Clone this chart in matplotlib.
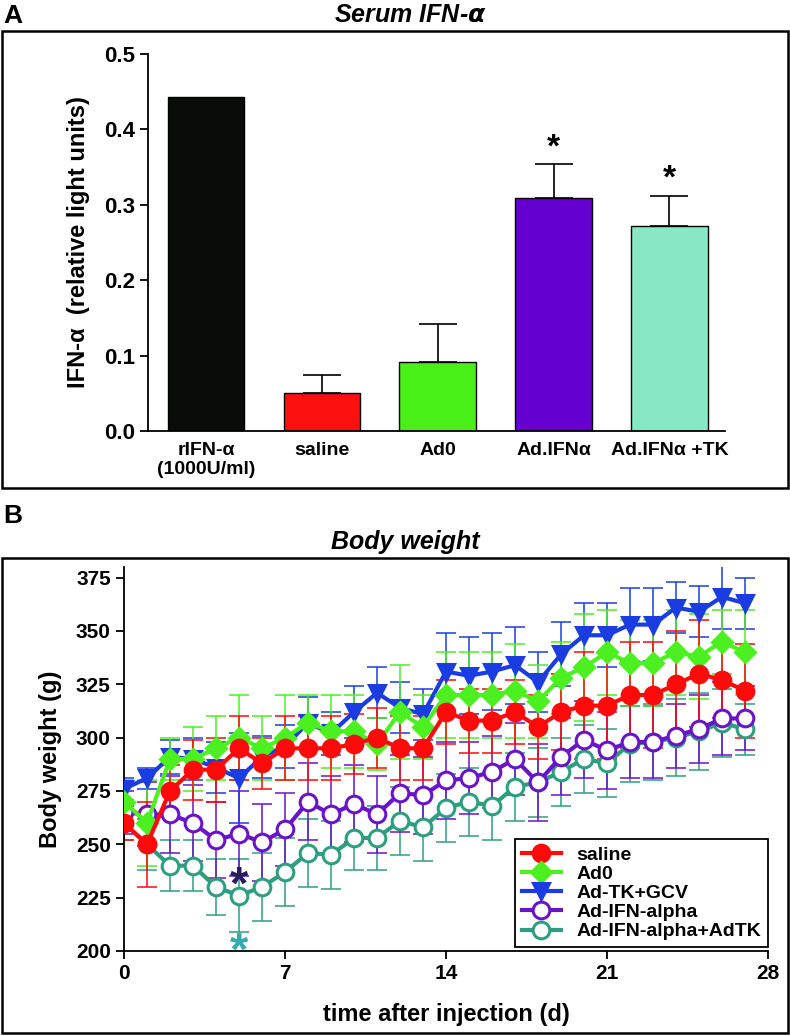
import matplotlib
matplotlib.use("Agg")
import matplotlib.pyplot as plt
from matplotlib.patches import Rectangle

plt.rcParams["font.family"] = ["Liberation Sans", "DejaVu Sans"]
plt.rcParams["font.weight"] = "bold"

# --- panel A: serum IFN-alpha ---
groups = ["rIFN-\u03b1\n(1000U/ml)", "saline", "Ad0", "Ad.IFN\u03b1", "Ad.IFN\u03b1 +TK"]
ifn_level = [0.443, 0.050, 0.092, 0.309, 0.272]
ifn_sem = [0.0, 0.024, 0.050, 0.045, 0.040]
bar_colors = ["#0a0c0a", "#ff1010", "#48f018", "#6400d0", "#88e8c6"]
signif = [False, False, False, True, True]

# --- panel B: body weight ---
days = list(range(28))
saline = [260, 250, 275, 285, 285, 295, 288, 295, 295, 295, 297, 300, 295, 295,
          312, 308, 308, 312, 305, 312, 315, 315, 320, 320, 325, 330, 327, 322]
saline_err = [8, 20, 12, 14, 15, 15, 12, 15, 15, 15, 14, 14, 15, 15,
              15, 15, 15, 15, 15, 18, 25, 25, 25, 25, 25, 25, 18, 22]
ad0 = [270, 260, 290, 290, 295, 300, 295, 300, 307, 303, 303, 297, 312, 305,
       320, 320, 320, 322, 317, 328, 333, 340, 335, 335, 340, 338, 345, 340]
ad0_err = [10, 20, 10, 15, 15, 20, 15, 20, 13, 17, 17, 12, 22, 15,
           20, 20, 20, 22, 17, 17, 25, 20, 20, 20, 20, 20, 15, 20]
adtk = [276, 281, 291, 290, 286, 281, 291, 296, 307, 302, 312, 321, 314, 311,
        331, 329, 331, 334, 326, 339, 348, 348, 353, 353, 361, 359, 366, 363]
adtk_err = [5, 5, 8, 10, 12, 21, 10, 10, 12, 10, 12, 12, 12, 12,
            18, 18, 18, 18, 14, 15, 15, 15, 17, 17, 12, 12, 15, 12]
ifn = [265, 264, 264, 260, 252, 255, 251, 257, 270, 264, 269, 264, 274, 273,
       280, 281, 284, 290, 279, 291, 299, 294, 298, 298, 301, 304, 309, 309]
ifn_err = [10, 15, 18, 18, 18, 20, 18, 17, 18, 18, 18, 18, 18, 18,
           18, 17, 17, 17, 18, 18, 18, 18, 17, 17, 15, 16, 17, 15]
ifntk = [260, 250, 240, 240, 230, 226, 230, 237, 246, 245, 253, 253, 261, 258,
         267, 270, 268, 277, 279, 284, 290, 288, 297, 298, 300, 303, 307, 304]
ifntk_err = [8, 12, 12, 12, 13, 17, 16, 16, 16, 16, 15, 15, 16, 16,
             16, 16, 16, 16, 16, 16, 16, 16, 18, 18, 18, 18, 16, 12]

W, H = 790, 1036
fig = plt.figure(figsize=(W / 100, H / 100), dpi=100)


def fx(px):
    return px / W


def fy(py):
    return 1 - py / H


# panel frames
for top, bot in [(31, 488), (558, 1033)]:
    fig.patches.append(Rectangle((fx(2), fy(bot)), fx(786), (bot - top) / H,
                                 transform=fig.transFigure, fill=False,
                                 edgecolor="black", linewidth=1.8))

fig.text(fx(3), fy(16), "A", fontsize=19, fontweight="bold", va="center", ha="left")
fig.text(fx(3), fy(516), "B", fontsize=19, fontweight="bold", va="center", ha="left")

# ---------- A ----------
ax1 = fig.add_axes([fx(148), fy(431), fx(725 - 148), (431 - 54) / H])
xpos = list(range(len(groups)))
ax1.bar(xpos, ifn_level, width=0.66, color=bar_colors, edgecolor="black", linewidth=1)
for x, v, e, s in zip(xpos, ifn_level, ifn_sem, signif):
    if e > 0:
        ax1.errorbar(x, v, yerr=[[0], [e]], color="black", capsize=14, elinewidth=1.2,
                     capthick=1.2, fmt="none")
    if s:
        ax1.text(x, v + e + 0.001, "*", ha="center", va="bottom", fontsize=24,
                 fontweight="bold")
ax1.set_xlim(-0.5, 4.48)
ax1.set_ylim(0, 0.5)
ax1.set_yticks([0.0, 0.1, 0.2, 0.3, 0.4, 0.5])
ax1.set_yticklabels(["0.0", "0.1", "0.2", "0.3", "0.4", "0.5"])
ax1.set_xticks(xpos)
ax1.set_xticklabels(groups, linespacing=1.15)
ax1.tick_params(axis="y", labelsize=16, width=1.3, length=6, direction="out")
ax1.tick_params(axis="x", labelsize=14, length=0, pad=8)
for sp in ["top", "right"]:
    ax1.spines[sp].set_visible(False)
for sp in ["left", "bottom"]:
    ax1.spines[sp].set_linewidth(1.3)
ax1.set_ylabel("IFN-\u03b1  (relative light units)", fontsize=17, fontweight="bold",
               labelpad=10)
fig.text(fx(410), fy(15), "Serum IFN-$\\alpha$", fontsize=18, fontweight="bold",
         style="italic", ha="center", va="center")

# ---------- B ----------
ax2 = fig.add_axes([fx(124), fy(951), fx(768 - 124), (951 - 567) / H])
series = [
    ("Ad-IFN-alpha+AdTK", ifntk, ifntk_err, "#2e9e80", "o", False),
    ("Ad-IFN-alpha", ifn, ifn_err, "#6a14c8", "o", False),
    ("Ad-TK+GCV", adtk, adtk_err, "#1a3ce0", "v", True),
    ("Ad0", ad0, ad0_err, "#4cf020", "D", True),
    ("saline", saline, saline_err, "#ff0a0a", "o", True),
]
handles = {}
for i, (name, vals, errs, col, mk, filled) in enumerate(series):
    ax2.errorbar(days, vals, yerr=errs, fmt="none", ecolor=col, elinewidth=1.1,
                 capsize=7, capthick=1.1, zorder=1 + i * 0.1)
for i, (name, vals, errs, col, mk, filled) in enumerate(series):
    ms = 12 if mk == "o" else (10 if mk == "D" else 12)
    h, = ax2.plot(days, vals, "-", color=col, linewidth=3, marker=mk, markersize=ms,
                  markerfacecolor=col if filled else "white", markeredgecolor=col,
                  markeredgewidth=2.2, label=name, zorder=3 + i)
    handles[name] = h

ax2.text(5, 230, "*", color="#2a1a5e", fontsize=34, fontweight="bold",
         ha="center", va="center", zorder=10)
ax2.text(5, 199, "*", color="#36a8b0", fontsize=34, fontweight="bold",
         ha="center", va="center", zorder=10)

ax2.set_xlim(0, 28)
ax2.set_ylim(200, 380)
ax2.set_xticks([0, 7, 14, 21, 28])
ax2.set_yticks(list(range(200, 376, 25)))
ax2.tick_params(labelsize=15, width=1.3, length=6, direction="out")
for sp in ["top", "right"]:
    ax2.spines[sp].set_visible(False)
for sp in ["left", "bottom"]:
    ax2.spines[sp].set_linewidth(1.3)
ax2.set_ylabel("Body weight (g)", fontsize=17, fontweight="bold", labelpad=10)
ax2.set_xlabel("time after injection (d)", fontsize=17, fontweight="bold", labelpad=14)
fig.text(fx(405), fy(542), "Body weight", fontsize=18, fontweight="bold",
         style="italic", ha="center", va="center")

order = ["saline", "Ad0", "Ad-TK+GCV", "Ad-IFN-alpha", "Ad-IFN-alpha+AdTK"]
leg = ax2.legend([handles[n] for n in order], order, loc="lower right",
                 bbox_to_anchor=(1.0, 0.01), borderaxespad=0, fancybox=False,
                 edgecolor="black", framealpha=1, fontsize=14, labelspacing=0.08,
                 handlelength=2.0, borderpad=0.35, handletextpad=0.8)
leg.get_frame().set_linewidth(1.3)
for t in leg.get_texts():
    t.set_fontweight("bold")
leg.set_zorder(20)

fig.savefig("out.png", dpi=100)
